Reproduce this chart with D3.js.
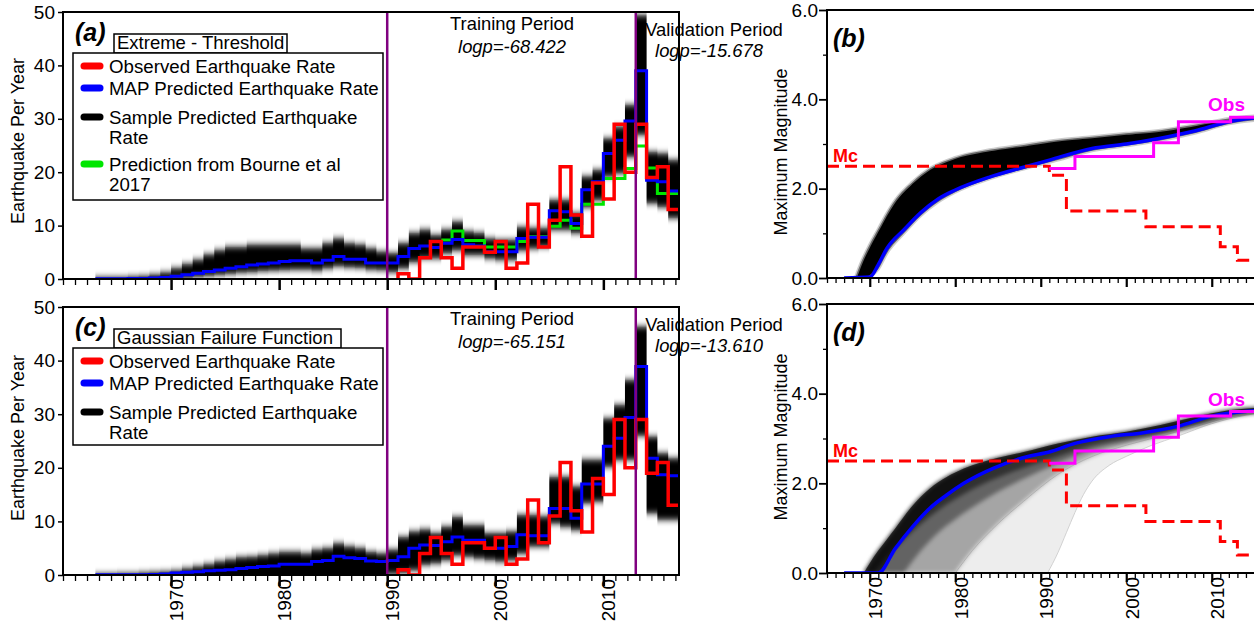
<!DOCTYPE html>
<html>
<head>
<meta charset="utf-8">
<script src="https://cdnjs.cloudflare.com/ajax/libs/d3/7.8.5/d3.min.js"></script>
<style>
  body { margin: 0; background: #fff; }
  text { font-family: "Liberation Sans", Arial, sans-serif; }
</style>
</head>
<body>
<svg width="1254" height="632"></svg>
<script>
// ---- rate panels (a) and (c): yearly values, first year 1963 ----
var rateStart = 1963;

var mapA = [0.05,0.05,0.05,0.1,0.1,0.2,0.3,
  0.5,0.8,1.1,1.4,1.7,2.0,2.3,2.6,2.8,3.0,
  3.3,3.4,3.4,3.0,3.5,4.2,3.7,3.7,3.0,3.0,
  3.0,4.2,5.7,6.2,5.9,6.7,7.4,6.4,6.2,5.1,
  5.1,5.1,7.6,7.8,7.8,12.8,12.6,10.4,16.7,18.2,
  23.5,26,29.6,39,18.5,18.2,16.5];
var hiA = [0.3,0.3,0.3,0.4,0.5,0.8,1.2,
  2.0,2.8,3.6,4.6,5.4,6.0,6.0,6.4,6.4,6.4,
  6.4,6.4,5.7,5.7,6.7,7.6,6.7,6.4,5.7,5.1,
  4.8,6.7,8.6,9.2,8.2,9.2,10.7,8.9,8.6,7.6,
  7.3,7.3,9.7,9.5,9.5,14.8,14.8,12.3,19.2,20.4,
  26.3,28.5,32.6,49.4,23.8,23.5,22.3];
var loA = [0,0,0,0,0,0,0,
  0.1,0.2,0.4,0.6,0.8,1.0,1.2,1.3,1.5,1.6,
  1.7,1.8,1.8,1.6,2.0,2.4,2.2,2.1,1.8,1.7,
  1.3,2.0,3.2,3.9,3.9,4.8,5.4,4.5,4.5,3.9,
  3.6,3.6,5.4,5.7,6.0,9.2,9.2,8.6,13.5,14.8,
  19.2,19.8,22.9,27,14.2,13.5,11.4];

var mapC = [0.05,0.05,0.05,0.05,0.05,0.1,0.2,
  0.35,0.5,0.6,0.8,0.9,1.0,1.2,1.4,1.6,1.7,
  2.0,2.0,2.0,2.5,2.7,3.5,3.2,3.1,2.6,2.5,
  2.7,3.4,5.0,5.6,5.5,6.2,7.1,6.5,6.5,5.0,
  5.0,5.3,7.5,7.3,7.3,12.4,12.4,10.6,17,17,
  24,25.5,29.4,38.9,21.8,18.7,18.5];
var hiC = [0.2,0.2,0.3,0.3,0.4,0.5,0.6,
  0.8,1.2,1.6,2.0,2.5,2.9,3.3,3.4,3.7,4.0,
  4.3,4.3,4.0,4.7,5.0,5.9,5.3,5.0,4.3,4.0,
  4.7,7.1,8.1,8.5,7.8,9.0,10.8,9.3,9.3,7.8,
  7.8,8.1,11.2,11.2,10.9,18.3,18.3,16.5,21.5,21.5,
  29.2,31.7,36.4,46.3,25.8,22.7,21.8];
var loC = [0,0,0,0,0,0,0,
  0,0,0,0,0,0,0,0,0,0,
  0,0,0,0,0,0,0,0,0,0,
  0.2,0.4,0.9,1.9,2.2,2.8,3.7,3.4,3.1,2.8,
  2.5,2.8,4.0,5.3,5.3,9.6,9.0,8.4,13.4,13.7,
  20.2,21.5,21.5,26,11.5,10.3,10.3];

var obsStart = 1991;
var obsRate = [1,0,4,7,4,2,6,6,5,7,2,3,14,6,11,21,12,8,18,15,29,20,29,19,21,13];

var bourneStart = 1995;
var bourneRate = [7.3,9,7.2,7.2,6.0,6.0,6.0,7.0,7.9,7.9,9.9,11,9.5,14,14,18.8,18.8,20.7,24.9,20.8,16,16];

var rateTicks = [0,10,20,30,40,50];
var decadeTicks = [1970,1980,1990,2000,2010];

// ---- magnitude panels (b) and (d) ----
var mapBYears = [1967,1970,1971,1972,1974,1976,1978,1980,1984,1988,1991,1996,2000,2004,2008,2012,2017];
var mapBVals  = [0,0.02,0.3,0.66,1.08,1.47,1.77,1.97,2.26,2.48,2.64,2.9,3.0,3.13,3.29,3.5,3.62];
var topBYears = [1968.3,1969,1970,1971,1972,1973,1975,1977,1980,1984,1988,1992,1996,2000,2004,2008,2012,2017];
var topBVals  = [0,0.35,0.75,1.1,1.45,1.75,2.15,2.45,2.7,2.87,2.98,3.09,3.16,3.24,3.31,3.43,3.57,3.65];
var lowBYears = [1969.8,1971,1972,1974,1976,1978,1980,1984,1988,1992,1996,2000,2004,2008,2012,2017];
var lowBVals  = [0,0.2,0.55,1.0,1.4,1.7,1.92,2.22,2.44,2.64,2.85,2.96,3.08,3.24,3.45,3.56];

var mapDYears = [1967,1971,1973,1975,1977,1979,1981,1984.5,1988.5,1991,1994,1998,2002,2006,2010,2015,2017];
var mapDVals  = [0,0,0.55,1.03,1.44,1.74,2.0,2.34,2.6,2.7,2.89,3.04,3.13,3.27,3.5,3.62,3.65];
var topDYears = [1969.3,1970,1971,1972,1973,1975,1977,1979,1981,1985,1988,1992,1996,2000,2004,2008,2012,2017];
var topDVals  = [0,0.22,0.5,0.75,1.0,1.5,1.88,2.14,2.33,2.57,2.7,2.89,3.04,3.15,3.3,3.48,3.63,3.7];
var fan1Years = [1970.5,1972,1974,1976,1978,1980,1984,1988,1992,1996,2000,2004,2008,2012,2017];
var fan1Vals  = [0,0.35,0.75,1.1,1.4,1.65,2.05,2.35,2.6,2.85,3.0,3.12,3.3,3.5,3.6];
var fan2Years = [1974,1976,1978,1980,1984,1988,1992,1996,2000,2004,2008,2012,2017];
var fan2Vals  = [0,0.5,0.9,1.2,1.7,2.1,2.45,2.75,2.93,3.08,3.28,3.48,3.6];
var fan3Years = [1980,1982,1985,1988,1992,1996,2000,2004,2008,2012,2017];
var fan3Vals  = [0,0.5,1.1,1.6,2.2,2.6,2.85,3.05,3.26,3.47,3.6];
var fan4Years = [1990.8,1992,1993,1994,1995,1996,1998,2000,2003,2006,2010,2014,2017];
var fan4Vals  = [0,0.45,0.9,1.35,1.75,2.05,2.4,2.6,2.85,3.05,3.33,3.52,3.6];

var mcYears  = [1965,1991,1993,2002.3,2011,2013,2017];
var mcVals   = [2.5,2.3,1.5,1.15,0.7,0.4,0.4];
var obsYears = [1991,1994,2003.2,2006.1,2012.2,2017];
var obsMag   = [2.45,2.72,3.03,3.5,3.6,3.6];

var magTicks = [0,2,4,6];
var magMinor = [1,3,5];

var RED = "#ff0000", BLUE = "#0000ff", GREEN = "#00e600", PURPLE = "#800080", MAG = "#ff00ff";
var FONT = '"Liberation Sans", Arial, sans-serif';

var svg = d3.select("svg");
var defs = svg.append("defs");
defs.append("filter").attr("id", "soft")
    .attr("filterUnits", "userSpaceOnUse")
    .attr("x", 0).attr("y", 0).attr("width", 1254).attr("height", 632)
  .append("feGaussianBlur").attr("stdDeviation", "0 3");
defs.append("filter").attr("id", "fan")
    .attr("filterUnits", "userSpaceOnUse")
    .attr("x", 0).attr("y", 0).attr("width", 1254).attr("height", 632)
  .append("feGaussianBlur").attr("stdDeviation", 2);

function steps(start, vals) {
    var p = vals.map(function (v, i) { return [start + i, v]; });
    p.push([start + vals.length, vals[vals.length - 1]]);
    return p;
}
function pairs(xs, ys) {
    return xs.map(function (t, i) { return [t, ys[i]]; });
}

function ratePanel(p) {
    var left = 63, right = 679;
    var x = d3.scaleLinear().domain([1960, 2017]).range([left, right]);
    var y = d3.scaleLinear().domain([0, 50]).range([p.bottom, p.top]);
    var g = svg.append("g");

    defs.append("clipPath").attr("id", "clip" + p.key)
      .append("rect").attr("x", left).attr("y", p.top)
      .attr("width", right - left).attr("height", p.bottom - p.top);
    var plot = g.append("g").attr("clip-path", "url(#clip" + p.key + ")");

    var band = p.map.map(function (m, i) { return { t: rateStart + i, hi: p.hi[i], lo: p.lo[i] }; });
    band.push({ t: rateStart + band.length, hi: p.hi[p.hi.length - 1], lo: p.lo[p.lo.length - 1] });
    var bandArea = d3.area().curve(d3.curveStepAfter)
        .x(function (d) { return x(d.t); })
        .y0(function (d) { return d.lo <= 0 ? y(0) + 8 : y(d.lo); })
        .y1(function (d) { return y(d.hi); });
    // faint outermost samples, then the dense core with soft edges
    plot.append("path").datum(band).attr("d", bandArea)
        .attr("fill", "#000").attr("fill-opacity", 0.12);
    plot.append("path").datum(band).attr("d", bandArea)
        .attr("fill", "#000").attr("filter", "url(#soft)");

    var line = d3.line().curve(d3.curveStepAfter)
        .x(function (d) { return x(d[0]); })
        .y(function (d) { return y(d[1]); });

    if (p.green) {
        plot.append("path").datum(steps(bourneStart, bourneRate))
            .attr("d", line).attr("fill", "none").attr("stroke", GREEN).attr("stroke-width", 3);
    }
    plot.append("path").datum(steps(rateStart, p.map))
        .attr("d", line).attr("fill", "none").attr("stroke", BLUE).attr("stroke-width", 3);
    plot.append("path").datum([[obsStart, 0]].concat(steps(obsStart, obsRate)))
        .attr("d", line).attr("fill", "none").attr("stroke", RED).attr("stroke-width", 3.5);

    [1990, 2013].forEach(function (t) {
        g.append("line").attr("x1", x(t)).attr("x2", x(t))
            .attr("y1", p.top).attr("y2", p.bottom)
            .attr("stroke", PURPLE).attr("stroke-width", 2.5);
    });

    g.append("rect").attr("x", left).attr("y", p.top)
        .attr("width", right - left).attr("height", p.bottom - p.top)
        .attr("fill", "none").attr("stroke", "#000").attr("stroke-width", 2);

    // axes
    var minor = d3.range(0, 52).filter(function (k) { return k % 9 !== 0; })
        .map(function (k) { return 1960 + k * 10 / 9; });
    minor.unshift(1960);
    var ax1 = g.append("g").attr("transform", "translate(0," + p.bottom + ")")
        .call(d3.axisBottom(x).tickValues(minor).tickSize(6).tickFormat(""));
    ax1.select(".domain").remove();
    ax1.selectAll("line").attr("stroke-width", 1.3);
    var ax2 = g.append("g").attr("transform", "translate(0," + p.bottom + ")")
        .call(d3.axisBottom(x).tickValues(decadeTicks).tickSize(11).tickFormat(""));
    ax2.select(".domain").remove();
    ax2.selectAll("line").attr("stroke-width", 2.5);

    var ay = g.append("g").attr("transform", "translate(" + left + ",0)")
        .call(d3.axisLeft(y).tickValues(rateTicks).tickSize(5).tickPadding(3));
    ay.select(".domain").remove();
    ay.selectAll("line").attr("stroke-width", 1.5);
    ay.selectAll("text").attr("font-size", 19).attr("font-family", FONT).attr("fill", "#000");

    if (p.xlabels) {
        decadeTicks.forEach(function (t) {
            g.append("text").attr("transform", "translate(" + (x(t) + 5) + "," + (p.bottom + 4) + ") rotate(-90)")
                .attr("text-anchor", "end").attr("dy", "0.35em").attr("font-size", 19).text(t);
        });
    }

    g.append("text").attr("transform", "translate(18," + p.ylabelY + ") rotate(-90)")
        .attr("text-anchor", "middle").attr("dy", "0.35em").attr("font-size", 18)
        .text("Earthquake Per Year");

    // period annotations
    g.append("text").attr("x", 512).attr("y", p.top + 18).attr("text-anchor", "middle")
        .attr("font-size", 18.4).text("Training Period");
    g.append("text").attr("x", 512).attr("y", p.top + 41).attr("text-anchor", "middle")
        .attr("font-size", 18.4).attr("font-style", "italic").text(p.logpTrain);
    g.append("text").attr("x", 714).attr("y", p.top + 24).attr("text-anchor", "middle")
        .attr("font-size", 18.4).text("Validation Period");
    g.append("text").attr("x", 709).attr("y", p.top + 45).attr("text-anchor", "middle")
        .attr("font-size", 18.4).attr("font-style", "italic").text(p.logpVal);

    // panel label & model title
    g.append("text").attr("x", 75).attr("y", p.top + 29).attr("font-size", 25)
        .attr("font-weight", "bold").attr("font-style", "italic").text(p.label);
    var ty = p.top + 22;
    g.append("rect").attr("x", 114).attr("y", ty).attr("width", p.titleW).attr("height", 19)
        .attr("fill", "#fff").attr("stroke", "#000").attr("stroke-width", 1.5);
    g.append("text").attr("x", 117).attr("y", ty + 15).attr("font-size", 18.5).text(p.title);

    // legend
    var ly = p.top + 41;
    g.append("rect").attr("x", 73).attr("y", ly).attr("width", 310).attr("height", p.legendH)
        .attr("fill", "#fff").attr("stroke", "#000").attr("stroke-width", 1.5);
    var items = [
        { c: RED, sw: 13, lines: ["Observed Earthquake Rate"] },
        { c: BLUE, sw: 35, lines: ["MAP Predicted Earthquake Rate"] },
        { c: "#000", sw: 64, lines: ["Sample Predicted Earthquake", "Rate"] }
    ];
    if (p.green) items.push({ c: GREEN, sw: 111, lines: ["Prediction from Bourne et al", "2017"] });
    items.forEach(function (it) {
        g.append("line").attr("x1", 84).attr("x2", 100)
            .attr("y1", ly + it.sw).attr("y2", ly + it.sw)
            .attr("stroke", it.c).attr("stroke-width", 7).attr("stroke-linecap", "round");
        it.lines.forEach(function (s, j) {
            g.append("text").attr("x", 109).attr("y", ly + it.sw + 7 + j * 20)
                .attr("font-size", 18.7).text(s);
        });
    });
}

function magPanel(p) {
    var left = 827, right = 827 + 52 * 8.55;
    var x = d3.scaleLinear().domain([1965, 2017]).range([left, right]);
    var y = d3.scaleLinear().domain([0, 6]).range([p.bottom, p.top]);
    var g = svg.append("g");

    defs.append("clipPath").attr("id", "clip" + p.key)
      .append("rect").attr("x", left).attr("y", p.top)
      .attr("width", right - left).attr("height", p.bottom - p.top);
    var plot = g.append("g").attr("clip-path", "url(#clip" + p.key + ")");

    var curve = d3.line().curve(d3.curveMonotoneX)
        .x(function (d) { return x(d[0]); })
        .y(function (d) { return y(d[1]); });
    function poly(top, bot) {
        var a = curve(top);
        var b = curve(bot.slice().reverse());
        return a + b.replace(/^M/, "L") + "Z";
    }
    var top = pairs(p.topYears, p.topVals);

    p.layers.forEach(function (L) {
        var bot = pairs(L.years, L.vals);
        var path = plot.append("path").attr("d", poly(top, bot))
            .attr("fill", L.fill).attr("fill-opacity", L.op)
            .attr("stroke", L.stroke || "none").attr("stroke-width", L.sw || 0)
            .attr("stroke-opacity", L.sop || 1);
        if (L.blur) path.attr("filter", "url(#fan)");
        if (L.edge) {
            plot.append("path").datum(bot).attr("d", curve)
                .attr("fill", "none").attr("stroke", L.edge).attr("stroke-width", 0.8);
        }
    });

    var step = d3.line().curve(d3.curveStepAfter)
        .x(function (d) { return x(d[0]); })
        .y(function (d) { return y(d[1]); });

    plot.append("path").datum(pairs(p.mapYears, p.mapVals))
        .attr("d", curve).attr("fill", "none").attr("stroke", BLUE).attr("stroke-width", 3.5);
    plot.append("path").datum(pairs(mcYears, mcVals))
        .attr("d", step).attr("fill", "none").attr("stroke", RED).attr("stroke-width", 3)
        .attr("stroke-dasharray", "12,6");
    plot.append("path").datum(pairs(obsYears, obsMag))
        .attr("d", step).attr("fill", "none").attr("stroke", MAG).attr("stroke-width", 3);

    g.append("rect").attr("x", left).attr("y", p.top)
        .attr("width", right - left).attr("height", p.bottom - p.top)
        .attr("fill", "none").attr("stroke", "#000").attr("stroke-width", 2);

    var yrs = d3.range(1965, 2018);
    var ax1 = g.append("g").attr("transform", "translate(0," + p.bottom + ")")
        .call(d3.axisBottom(x).tickValues(yrs.filter(function (t) { return t % 10 !== 0; }))
            .tickSize(5).tickFormat(""));
    ax1.select(".domain").remove();
    ax1.selectAll("line").attr("stroke-width", 1.3);
    var ax2 = g.append("g").attr("transform", "translate(0," + p.bottom + ")")
        .call(d3.axisBottom(x).tickValues(decadeTicks).tickSize(9).tickFormat(""));
    ax2.select(".domain").remove();
    ax2.selectAll("line").attr("stroke-width", 2.2);

    var ay1 = g.append("g").attr("transform", "translate(" + left + ",0)")
        .call(d3.axisLeft(y).tickValues(magMinor).tickSize(4).tickFormat(""));
    ay1.select(".domain").remove();
    ay1.selectAll("line").attr("stroke-width", 1.3);
    var ay = g.append("g").attr("transform", "translate(" + left + ",0)")
        .call(d3.axisLeft(y).tickValues(magTicks).tickSize(8).tickPadding(1).tickFormat(d3.format(".1f")));
    ay.select(".domain").remove();
    ay.selectAll("line").attr("stroke-width", 1.8);
    ay.selectAll("text").attr("font-size", 19).attr("font-family", FONT).attr("fill", "#000");

    if (p.xlabels) {
        decadeTicks.forEach(function (t) {
            g.append("text").attr("transform", "translate(" + (x(t) + 6) + "," + (p.bottom + 4) + ") rotate(-90)")
                .attr("text-anchor", "end").attr("dy", "0.35em").attr("font-size", 19).text(t);
        });
    }

    g.append("text").attr("transform", "translate(781," + p.ylabelY + ") rotate(-90)")
        .attr("text-anchor", "middle").attr("dy", "0.35em").attr("font-size", 18)
        .text("Maximum Magnitude");

    g.append("text").attr("x", 833).attr("y", p.top + 37).attr("font-size", 25)
        .attr("font-weight", "bold").attr("font-style", "italic").text(p.label);
    g.append("text").attr("x", 833).attr("y", y(2.5) - 4).attr("font-size", 18)
        .attr("font-weight", "bold").attr("fill", RED).text("Mc");
    g.append("text").attr("x", 1208).attr("y", y(3.6) - 6).attr("font-size", 19)
        .attr("font-weight", "bold").attr("fill", MAG).text("Obs");
}

ratePanel({ key: "a", top: 12, bottom: 279, label: "(a)", title: "Extreme - Threshold", titleW: 173,
    map: mapA, hi: hiA, lo: loA, green: true, logpTrain: "logp=-68.422", logpVal: "logp=-15.678",
    legendH: 147, xlabels: false, ylabelY: 141 });
ratePanel({ key: "c", top: 307, bottom: 575, label: "(c)", title: "Gaussian Failure Function", titleW: 227,
    map: mapC, hi: hiC, lo: loC, green: false, logpTrain: "logp=-65.151", logpVal: "logp=-13.610",
    legendH: 97, xlabels: true, ylabelY: 438 });

magPanel({ key: "b", top: 10, bottom: 278, label: "(b)", xlabels: false, ylabelY: 152,
    mapYears: mapBYears, mapVals: mapBVals, topYears: topBYears, topVals: topBVals,
    layers: [
        { years: lowBYears, vals: lowBVals, fill: "#000", op: 1, stroke: "#aaa", sw: 3, sop: 0.6 }
    ] });
magPanel({ key: "d", top: 304, bottom: 573, label: "(d)", xlabels: true, ylabelY: 437,
    mapYears: mapDYears, mapVals: mapDVals, topYears: topDYears, topVals: topDVals,
    layers: [
        { years: fan4Years, vals: fan4Vals, fill: "#000", op: 0.07, edge: "#c8c8c8" },
        { years: fan3Years, vals: fan3Vals, fill: "#000", op: 0.3, blur: true, edge: "#aaa" },
        { years: fan2Years, vals: fan2Vals, fill: "#000", op: 0.4, blur: true },
        { years: fan1Years, vals: fan1Vals, fill: "#000", op: 0.5, blur: true },
        { years: mapDYears, vals: mapDVals, fill: "#000", op: 0.65 }
    ] });
</script>
</body>
</html>
